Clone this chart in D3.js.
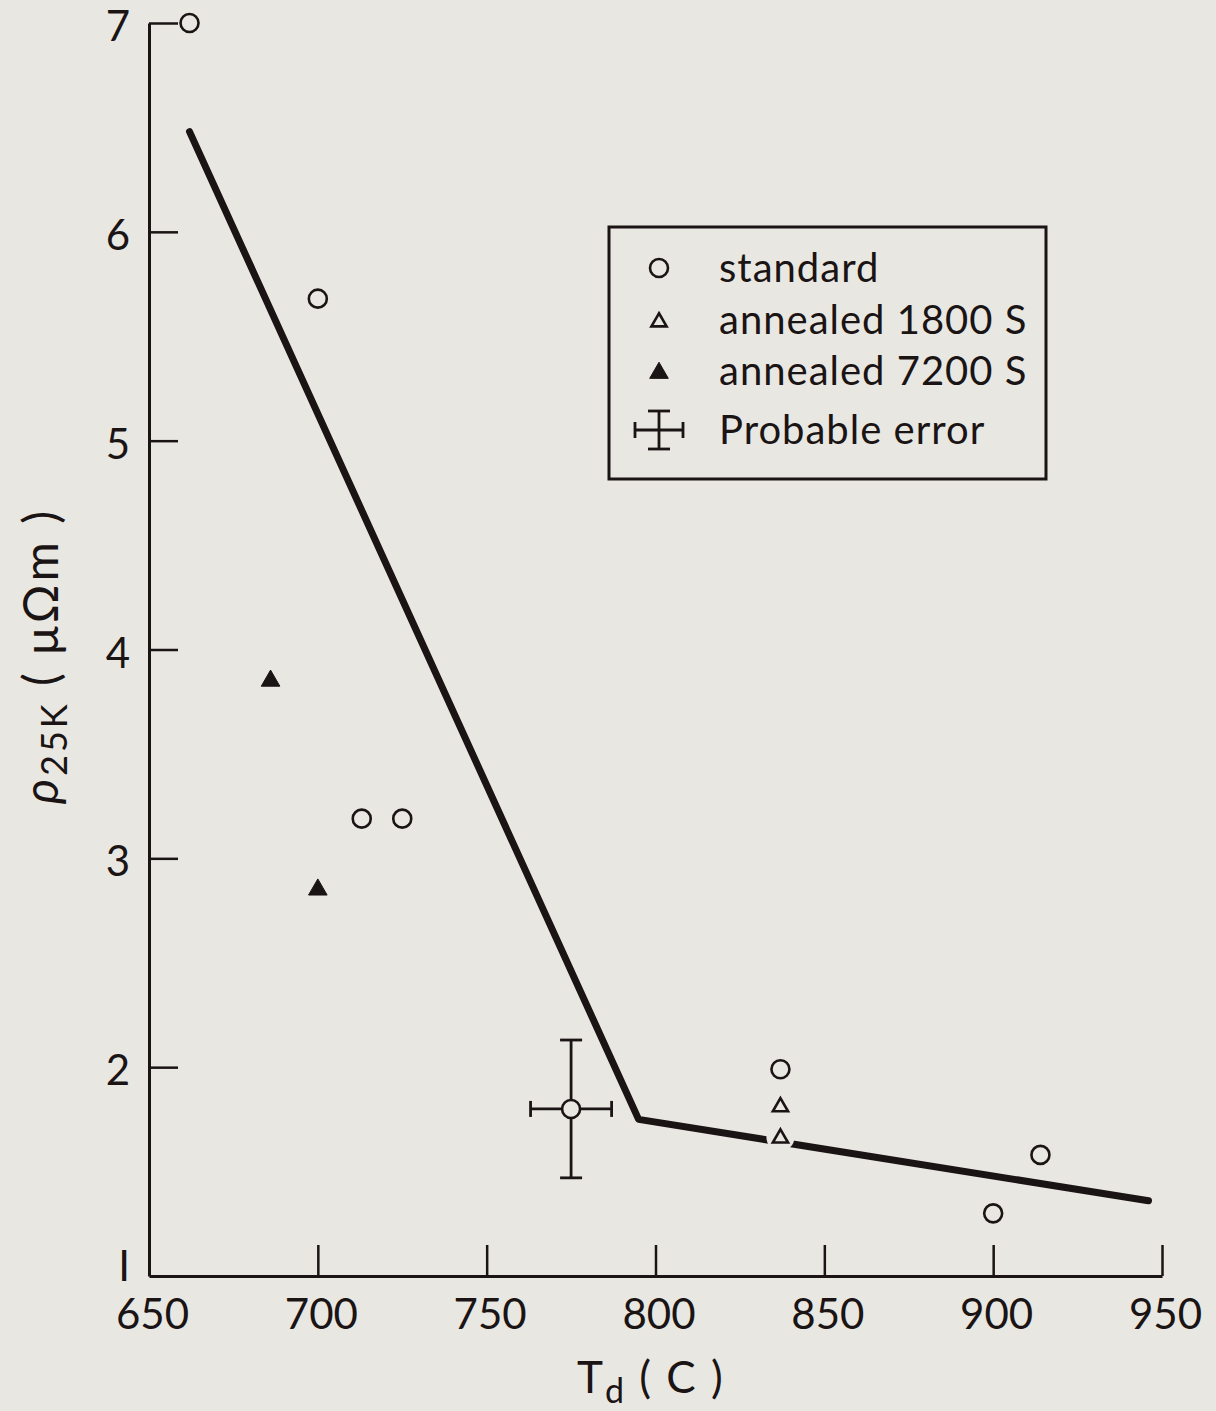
<!DOCTYPE html>
<html>
<head>
  <title>Resistivity vs deposition temperature</title>
  <script src="https://d3js.org/d3.v7.min.js"></script>
  <style>
    body { margin: 0; background: #e9e7e2; }
    svg { display: block; }
    text { font-family: Lato, "DejaVu Sans", sans-serif; fill: #1a1414; }
  </style>
</head>
<body>
  <script>
    // Data
    var standardX = [662, 700, 713, 725, 775, 837, 900, 914];
    var standardY = [7.0, 5.68, 3.19, 3.19, 1.80, 1.99, 1.30, 1.58];

    var ann1800X = [837, 837];
    var ann1800Y = [1.81, 1.66];

    var ann7200X = [686, 700];
    var ann7200Y = [3.85, 2.85];

    // probable error shown on the 775 point
    var errX = 775, errY = 1.80, errDx = 12, errDy = 0.33;

    var fitX = [662, 795, 946];
    var fitY = [6.48, 1.75, 1.36];

    var xTicks = [650, 700, 750, 800, 850, 900, 950];
    var yTicks = [1, 2, 3, 4, 5, 6, 7];

    var legendLabels = ["standard", "annealed 1800 S", "annealed 7200 S", "Probable error"];

    var ink = "#1a1414";
    var bg = "#e9e7e2";

    var W = 1216, H = 1411;
    var svg = d3.select("body").append("svg")
      .attr("width", W)
      .attr("height", H);

    svg.append("rect").attr("width", W).attr("height", H).attr("fill", bg);

    var x = d3.scaleLinear().domain([650, 950]).range([149, 1162]);
    var y = d3.scaleLinear().domain([1, 7]).range([1276, 23]);

    // x axis, ticks pointing up into the plot
    var xAxis = d3.axisBottom(x).tickValues(xTicks).tickSize(-31).tickSizeOuter(0).tickPadding(23);
    var gx = svg.append("g").attr("transform", "translate(0," + y(1) + ")").call(xAxis);
    gx.select(".domain").attr("stroke", ink).attr("stroke-width", 3);
    gx.selectAll(".tick line").attr("stroke", ink).attr("stroke-width", 2.5)
      .attr("display", function(d) { return d === 650 ? "none" : null; });
    gx.selectAll(".tick text").attr("font-size", 42).attr("dx", 3).style("fill", ink);

    // y axis, ticks pointing right
    var yAxis = d3.axisLeft(y).tickValues(yTicks).tickSize(-29).tickSizeOuter(0).tickPadding(19)
      .tickFormat(function(d) { return d === 1 ? "I" : d; });
    var gy = svg.append("g").attr("transform", "translate(" + x(650) + ",0)").call(yAxis);
    gy.select(".domain").attr("stroke", ink).attr("stroke-width", 3);
    gy.selectAll(".tick line").attr("stroke", ink).attr("stroke-width", 2.5)
      .attr("display", function(d) { return d === 1 ? "none" : null; });
    gy.selectAll(".tick text").attr("font-size", 42).style("fill", ink)
      .attr("dy", function(d) { return d === 1 ? "0.1em" : "0.42em"; });

    // fit line
    var fit = fitX.map(function(d, i) { return [d, fitY[i]]; });
    svg.append("path")
      .datum(fit)
      .attr("fill", "none")
      .attr("stroke", ink)
      .attr("stroke-width", 7)
      .attr("stroke-linecap", "round")
      .attr("stroke-linejoin", "round")
      .attr("d", d3.line().x(function(d) { return x(d[0]); }).y(function(d) { return y(d[1]); }));

    // marker helpers
    function drawCircle(g, cx, cy) {
      g.append("circle").attr("cx", cx).attr("cy", cy).attr("r", 9)
        .attr("fill", bg).attr("stroke", ink).attr("stroke-width", 2.6);
    }
    function drawTriangle(g, cx, cy, filled) {
      g.append("path")
        .attr("transform", "translate(" + cx + "," + cy + ")")
        .attr("d", d3.symbol().type(d3.symbolTriangle).size(filled ? 150 : 100)())
        .attr("fill", filled ? ink : "none")
        .attr("stroke", ink)
        .attr("stroke-width", filled ? 1 : 2.6)
        .attr("stroke-linejoin", "miter");
    }
    function drawErrorCross(g, cx, x0, x1, cy, y0, y1) {
      function ln(a, b, c, d) {
        g.append("line").attr("x1", a).attr("y1", b).attr("x2", c).attr("y2", d)
          .attr("stroke", ink).attr("stroke-width", 2.8);
      }
      ln(x0, cy, x1, cy);
      ln(x0, cy - 8, x0, cy + 8);
      ln(x1, cy - 8, x1, cy + 8);
      ln(cx, y0, cx, y1);
      ln(cx - 11, y0, cx + 11, y0);
      ln(cx - 11, y1, cx + 11, y1);
    }

    var marks = svg.append("g");

    // error bar on the probable-error point
    drawErrorCross(marks, x(errX), x(errX - errDx), x(errX + errDx),
      y(errY), y(errY + errDy), y(errY - errDy));

    standardX.forEach(function(d, i) { drawCircle(marks, x(d), y(standardY[i])); });

    // open triangles break the fit line where they sit on it
    ann1800X.forEach(function(d, i) {
      marks.append("circle").attr("cx", x(d)).attr("cy", y(ann1800Y[i]) - 1).attr("r", 14).attr("fill", bg);
      drawTriangle(marks, x(d), y(ann1800Y[i]), false);
    });
    ann7200X.forEach(function(d, i) { drawTriangle(marks, x(d), y(ann7200Y[i]), true); });

    // legend
    var lg = svg.append("g");
    lg.append("rect").attr("x", 609).attr("y", 227).attr("width", 437).attr("height", 252)
      .attr("fill", "none").attr("stroke", ink).attr("stroke-width", 3);
    var rowY = [268, 320, 371, 430];
    var symX = 659;
    drawCircle(lg, symX, rowY[0]);
    drawTriangle(lg, symX, rowY[1] + 2, false);
    drawTriangle(lg, symX, rowY[2] + 2, true);
    drawErrorCross(lg, symX, symX - 24, symX + 24, rowY[3], rowY[3] - 19, rowY[3] + 19);
    legendLabels.forEach(function(t, i) {
      lg.append("text").attr("x", 719).attr("y", rowY[i]).attr("dy", "0.35em")
        .attr("font-size", 40).attr("letter-spacing", 1).text(t);
    });

    // axis titles
    var xt = svg.append("text").attr("x", 577).attr("y", 1393).attr("font-size", 44)
      .attr("letter-spacing", 2);
    xt.append("tspan").text("T");
    xt.append("tspan").attr("font-size", 34).attr("dy", 10).text("d");
    xt.append("tspan").attr("dy", -10).text(" ( C )");

    var yt = svg.append("text")
      .attr("transform", "translate(58,656) rotate(-90)")
      .attr("text-anchor", "middle")
      .attr("font-size", 48)
      .attr("letter-spacing", 3);
    yt.append("tspan").attr("font-style", "italic").text("\u03c1");
    yt.append("tspan").attr("font-size", 36).attr("dy", 9).text("25K");
    yt.append("tspan").attr("dy", -9).text(" ( \u03bc\u03a9m )");
  </script>
</body>
</html>
